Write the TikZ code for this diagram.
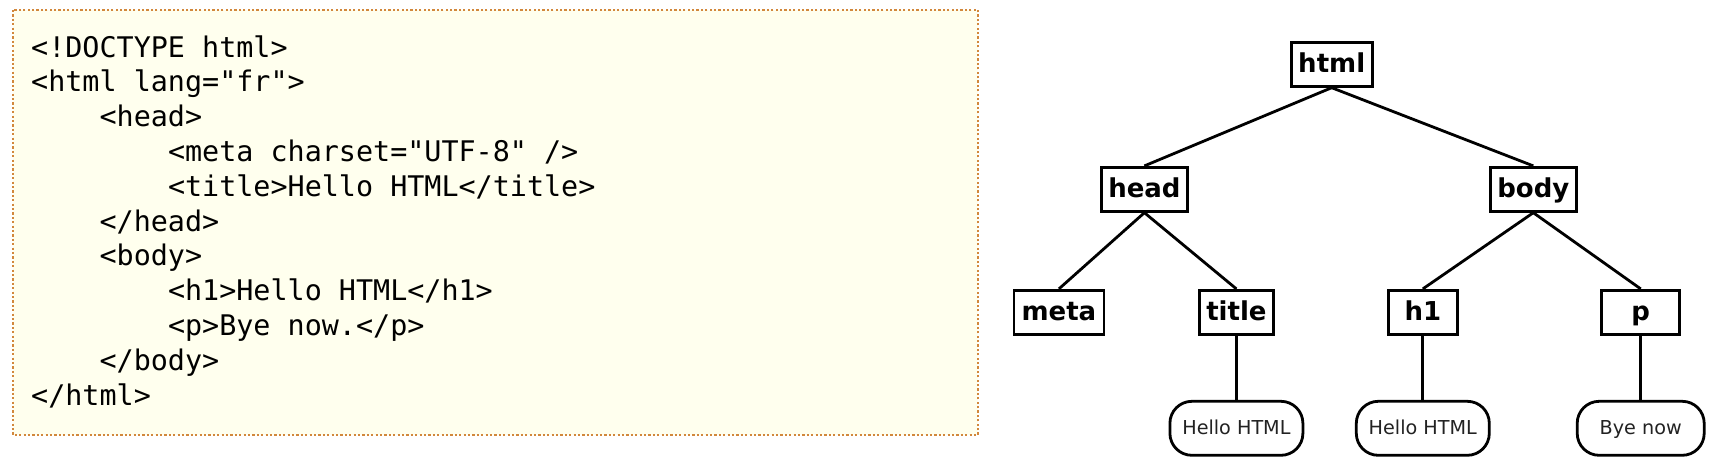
\documentclass[tikz,border=0pt]{standalone}
\usepackage{fontspec}
\setmonofont{DejaVu Sans Mono}
\newfontfamily\treefont{DejaVu Sans}
\definecolor{codebg}{HTML}{FFFFEE}
\definecolor{codeborder}{HTML}{D2883C}
\definecolor{leaftext}{HTML}{222222}
\begin{document}
\begin{tikzpicture}[x=1pt,y=-1pt,
  codeline/.style={anchor=base west,inner sep=0pt,font=\ttfamily\fontsize{28.4}{34.8}\selectfont},
  tagbox/.style={draw,line width=2.8pt,minimum height=44pt,inner sep=0pt,
    text height=20pt,text depth=3.2pt,
    font=\treefont\bfseries\fontsize{26}{30}\selectfont},
  leafbox/.style={draw,line width=2.8pt,rounded corners=22pt,minimum height=54pt,inner sep=0pt,
    text height=13.6pt,text depth=0.4pt,
    text=leaftext,font=\treefont\fontsize{19.2}{22}\selectfont},
  edge/.style={line width=2.8pt}]
\useasboundingbox (0,0) rectangle (1721,469);
% code panel
\path[fill=codebg,draw=codeborder,line width=2.2pt,dash pattern=on 2.2pt off 2.2pt] (13,10) rectangle (978,435);
\def\ind{17.1}
\node[codeline] (c1) at (31,57) {<!DOCTYPE html>};
\node[codeline] (c2) at (31,91.8) {<html lang="fr">};
\node[codeline] (c3) at (31+4*\ind,126.6) {<head>};
\node[codeline] (c4) at (31+8*\ind,161.4) {<meta charset="UTF-8" />};
\node[codeline] (c5) at (31+8*\ind,196.2) {<title>Hello HTML</title>};
\node[codeline] (c6) at (31+4*\ind,231) {</head>};
\node[codeline] (c7) at (31+4*\ind,265.8) {<body>};
\node[codeline] (c8) at (31+8*\ind,300.6) {<h1>Hello HTML</h1>};
\node[codeline] (c9) at (31+8*\ind,335.4) {<p>Bye now.</p>};
\node[codeline] (c10) at (31+4*\ind,370.2) {</body>};
\node[codeline] (c11) at (31,405) {</html>};
% tree
\node[tagbox,minimum width=81pt] (html) at (1331.7,64.3) {html};
\node[tagbox,minimum width=86pt] (head) at (1144.4,189.3) {head};
\node[tagbox,minimum width=86pt] (body) at (1533.3,189.3) {body};
\node[tagbox,minimum width=90pt] (meta) at (1058.9,312.3) {meta};
\node[tagbox,minimum width=74pt] (title) at (1236.4,312.3) {title};
\node[tagbox,minimum width=69pt] (h1) at (1422.8,312.3) {h1};
\node[tagbox,minimum width=78pt] (p) at (1640.7,312.3) {p};
\node[leafbox,minimum width=133pt] (t1) at (1236.4,428.3) {Hello HTML};
\node[leafbox,minimum width=133pt] (t2) at (1422.8,428.3) {Hello HTML};
\node[leafbox,minimum width=127pt] (t3) at (1640.7,428.3) {Bye now};
\draw[edge] (html.south) -- (head.north);
\draw[edge] (html.south) -- (body.north);
\draw[edge] (head.south) -- (meta.north);
\draw[edge] (head.south) -- (title.north);
\draw[edge] (body.south) -- (h1.north);
\draw[edge] (body.south) -- (p.north);
\draw[edge] (title.south) -- (t1.north);
\draw[edge] (h1.south) -- (t2.north);
\draw[edge] (p.south) -- (t3.north);
\end{tikzpicture}
\end{document}
